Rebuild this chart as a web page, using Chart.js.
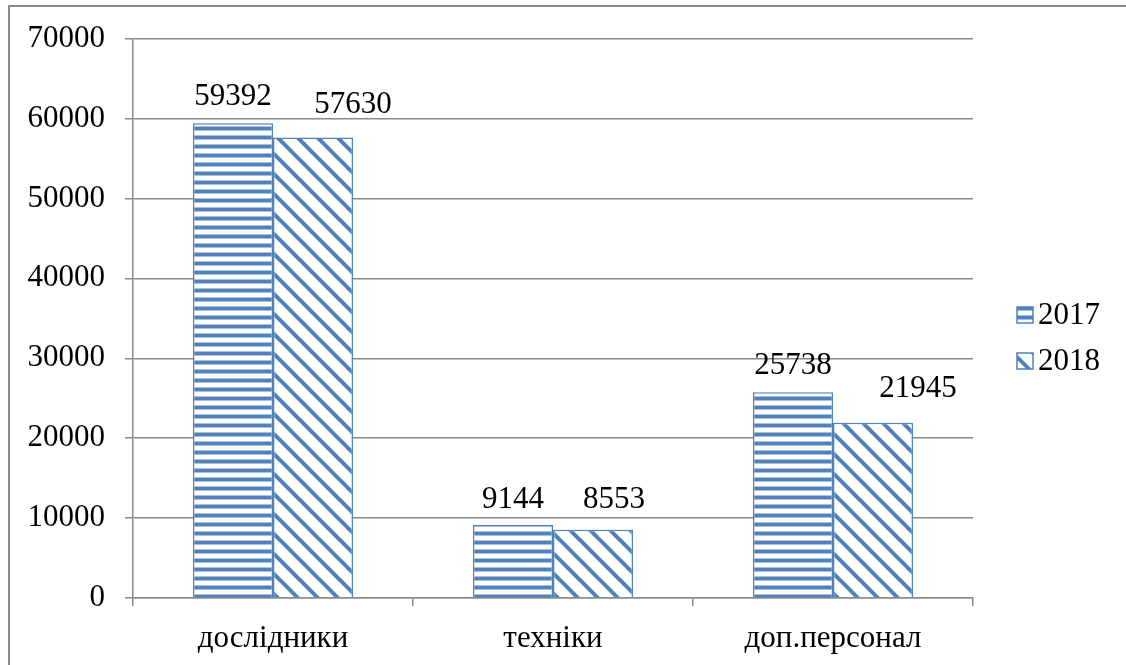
<!DOCTYPE html>
<html>
<head>
<meta charset="utf-8">
<title>Персонал 2017–2018</title>
<script src="https://cdn.jsdelivr.net/npm/chart.js@4/dist/chart.umd.min.js"></script>
<style>
  html, body { margin: 0; padding: 0; background: #fff; }
  #wrap { width: 1126px; height: 665px; position: relative; }
</style>
</head>
<body>
<div id="wrap"><canvas id="chart" width="1126" height="665"></canvas></div>
<script>
// ---- Data ----
const categories = ['дослідники', 'техніки', 'доп.персонал'];
const seriesNames = ['2017', '2018'];
const values2017 = [59392, 9144, 25738];
const values2018 = [57630, 8553, 21945];
const yTicks = [0, 10000, 20000, 30000, 40000, 50000, 60000, 70000];

const BLUE = '#4F81BD';
const GRID = '#8a8a8a';
const FONT = "'Liberation Serif', 'Times New Roman', serif";

// ---- Fill patterns ----
function stripePattern() {
  const c = document.createElement('canvas');
  c.width = 9; c.height = 9;
  const g = c.getContext('2d');
  g.fillStyle = '#fff';
  g.fillRect(0, 0, 9, 9);
  g.fillStyle = '#a9c0de';
  g.fillRect(0, 0, 9, 5);
  g.fillStyle = BLUE;
  g.fillRect(0, 1, 9, 3);
  return g.createPattern(c, 'repeat');
}

function diagonalPattern() {
  const s = 20;
  const c = document.createElement('canvas');
  c.width = s; c.height = s;
  const g = c.getContext('2d');
  g.fillStyle = '#fff';
  g.fillRect(0, 0, s, s);
  g.strokeStyle = BLUE;
  g.lineWidth = 4;
  [-s, 0, s].forEach(k => {
    g.beginPath();
    g.moveTo(-2, k - 2);
    g.lineTo(s + 2, s + k + 2);
    g.stroke();
  });
  return g.createPattern(c, 'repeat');
}

const fills = [stripePattern(), diagonalPattern()];

// ---- Plugins: frame, value labels, legend ----
const framePlugin = {
  id: 'frame',
  beforeDraw(chart) {
    const ctx = chart.ctx;
    ctx.save();
    ctx.strokeStyle = GRID;
    ctx.lineWidth = 2;
    ctx.strokeRect(9, 6, 1300, 800);
    ctx.restore();
  }
};

// labels were nudged by hand in the original, so each one has its own offset
const valueLabels = {
  id: 'valueLabels',
  afterDatasetsDraw(chart, args, opts) {
    const ctx = chart.ctx;
    ctx.save();
    ctx.font = '31px ' + FONT;
    ctx.fillStyle = '#000';
    ctx.textAlign = 'center';
    ctx.textBaseline = 'alphabetic';
    chart.data.datasets.forEach((ds, di) => {
      chart.getDatasetMeta(di).data.forEach((bar, i) => {
        const dx = opts.dx[di][i], gap = opts.gap[di][i];
        ctx.fillText(String(ds.data[i]), bar.x + dx, bar.y - gap);
      });
    });
    ctx.restore();
  }
};

const sideLegend = {
  id: 'sideLegend',
  afterDraw(chart) {
    const ctx = chart.ctx;
    const x = 1017, rows = [307, 353], box = 16;
    ctx.save();
    chart.data.datasets.forEach((ds, di) => {
      const y = rows[di];
      ctx.fillStyle = fills[di];
      ctx.fillRect(x, y, box, box);
      ctx.strokeStyle = BLUE;
      ctx.lineWidth = 1.5;
      ctx.strokeRect(x, y, box, box);
      ctx.fillStyle = '#000';
      ctx.font = '31px ' + FONT;
      ctx.textAlign = 'left';
      ctx.textBaseline = 'middle';
      ctx.fillText(ds.label, x + 21, y + box / 2 + 1);
    });
    ctx.restore();
  }
};

// ---- Chart ----
new Chart(document.getElementById('chart'), {
  type: 'bar',
  data: {
    labels: categories,
    datasets: [
      { label: seriesNames[0], data: values2017, backgroundColor: fills[0], borderColor: BLUE, borderWidth: 1.5 },
      { label: seriesNames[1], data: values2018, backgroundColor: fills[1], borderColor: BLUE, borderWidth: 1.5 }
    ]
  },
  options: {
    responsive: false,
    animation: false,
    datasets: { bar: { barPercentage: 1, categoryPercentage: 0.5714 } },
    layout: { padding: { top: 38, right: 153, left: 0, bottom: 0 } },
    plugins: {
      legend: { display: false },
      tooltip: { enabled: false },
      valueLabels: {
        dx: [[0, 0, 0], [40, 21, 45]],
        gap: [[18, 17, 18], [24, 22, 26]]
      }
    },
    scales: {
      x: {
        afterFit: s => { s.height = 67; },
        grid: { offset: true, drawOnChartArea: false, tickLength: 8, color: GRID, lineWidth: 1.5 },
        border: { color: GRID, width: 1.5 },
        ticks: { color: '#000', font: { family: FONT, size: 31 }, padding: 14 }
      },
      y: {
        min: 0,
        max: 70000,
        afterFit: s => { s.width = 133; },
        afterBuildTicks: s => { s.ticks = yTicks.map(v => ({ value: v })); },
        grid: { color: GRID, lineWidth: 1.5, tickLength: 8 },
        border: { color: GRID, width: 1.5 },
        ticks: {
          color: '#000',
          font: { family: FONT, size: 31 },
          padding: 20,
          callback: v => String(v)
        }
      }
    }
  },
  plugins: [framePlugin, valueLabels, sideLegend]
});
</script>
</body>
</html>
